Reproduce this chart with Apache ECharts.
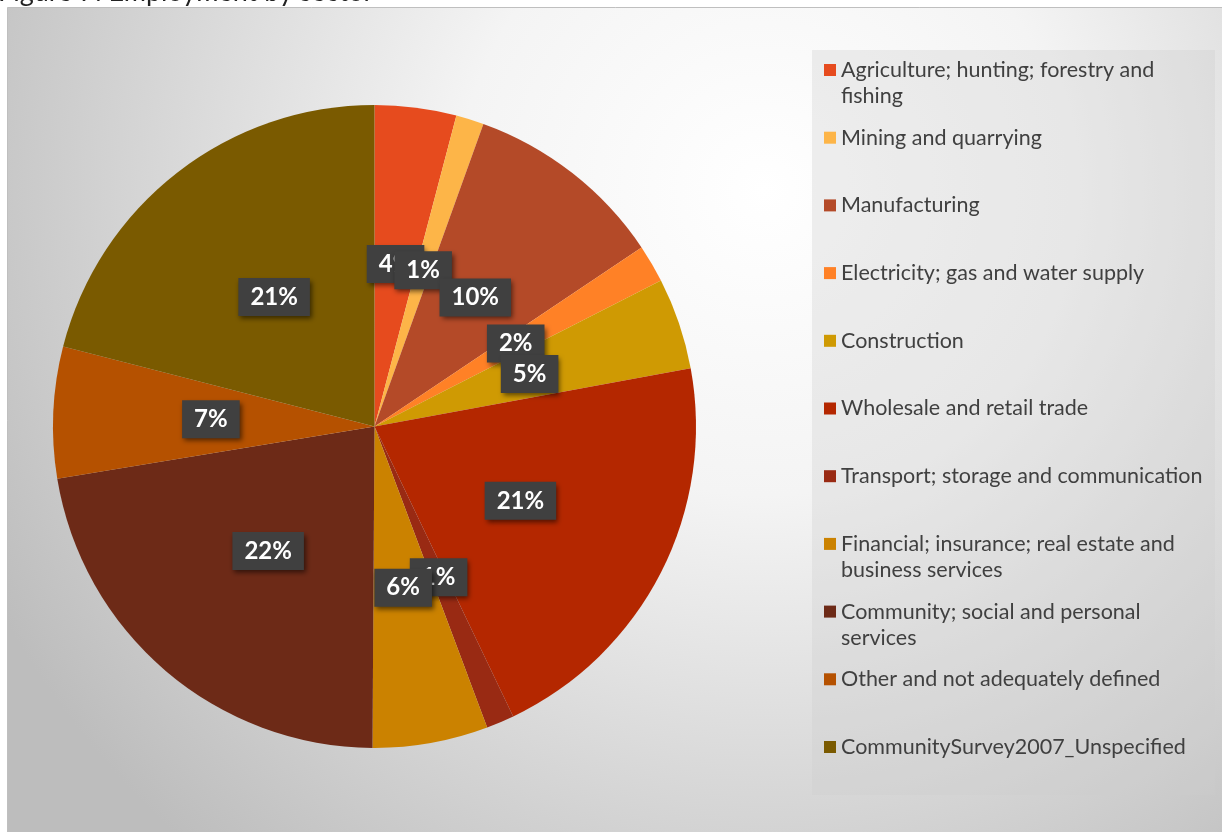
<!DOCTYPE html>
<html>
<head>
<meta charset="utf-8">
<script src="https://cdn.jsdelivr.net/npm/echarts@6/dist/echarts.min.js"></script>
<style>
  html, body { margin: 0; padding: 0; background: #ffffff; }
  #chart { width: 1222px; height: 832px; }
</style>
</head>
<body>
<div id="chart"></div>
<script>
// Employment share by sector (percent of employed persons)
const sectors = [
  'Agriculture; hunting; forestry and fishing',
  'Mining and quarrying',
  'Manufacturing',
  'Electricity; gas and water supply',
  'Construction',
  'Wholesale and retail trade',
  'Transport; storage and communication',
  'Financial; insurance; real estate and business services',
  'Community; social and personal services',
  'Other and not adequately defined',
  'CommunitySurvey2007_Unspecified'
];
const shares = [4.1, 1.4, 10.1, 1.9, 4.6, 20.8, 1.4, 5.8, 22.3, 6.6, 21.0];

// Legend text, split where the long names wrap onto a second line
const legendLines = [
  ['Agriculture; hunting; forestry and', 'fishing'],
  ['Mining and quarrying', ' '],
  ['Manufacturing', ' '],
  ['Electricity; gas and water supply', ' '],
  ['Construction', ' '],
  ['Wholesale and retail trade', ' '],
  ['Transport; storage and communication', ' '],
  ['Financial; insurance; real estate and', 'business services'],
  ['Community; social and personal', 'services'],
  ['Other and not adequately defined', ' '],
  ['CommunitySurvey2007_Unspecified', ' ']
];

const palette = [
  '#E64B1E', '#FDB548', '#B44A28', '#FF8126', '#CF9A03', '#B42700',
  '#992A13', '#CB8200', '#6D2A17', '#B55100', '#7A5A00'
];

const chart = echarts.init(document.getElementById('chart'), null, { renderer: 'canvas' });

const LINE_H = 26;

chart.setOption({
  animation: false,
  color: palette,
  title: {
    text: 'Figure 7: Employment by sector',
    left: -2,
    top: -21,
    padding: 0,
    textStyle: {
      fontFamily: 'Lato',
      fontWeight: 'normal',
      fontSize: 27,
      color: '#222222'
    }
  },
  graphic: [
    {
      type: 'rect',
      z: -2,
      shape: { x: 7.5, y: 7.5, width: 1220, height: 830 },
      style: {
        fill: {
          type: 'radial', x: 0.62, y: 0.22, r: 1.05,
          colorStops: [
            { offset: 0, color: '#FFFFFF' },
            { offset: 0.35, color: '#F4F4F4' },
            { offset: 1, color: '#BDBDBD' }
          ]
        },
        stroke: '#BFBFBF',
        lineWidth: 1
      },
      silent: true
    },
    {
      type: 'rect',
      z: -1,
      shape: { x: 812, y: 50, width: 403, height: 745 },
      style: { fill: 'rgba(205,205,205,0.32)' },
      silent: true
    }
  ],
  legend: {
    orient: 'vertical',
    left: 824,
    top: 31,
    padding: 0,
    itemGap: 67.7 - 3 * LINE_H,
    itemWidth: 12,
    itemHeight: 12,
    icon: 'rect',
    selectedMode: false,
    data: sectors,
    // a blank first line keeps the swatch level with the name's first line
    formatter: function (name) {
      const i = sectors.indexOf(name);
      return ' \n' + legendLines[i][0] + '\n' + legendLines[i][1];
    },
    textStyle: {
      fontFamily: 'Lato',
      fontSize: 21.5,
      color: '#404040',
      lineHeight: LINE_H
    }
  },
  series: [
    {
      type: 'pie',
      center: [374.5, 426.5],
      radius: [0, 321.5],
      startAngle: 90,
      clockwise: true,
      avoidLabelOverlap: false,
      percentPrecision: 0,
      itemStyle: { borderWidth: 0 },
      labelLayout: { hideOverlap: false },
      label: {
        show: true,
        position: 'inside',
        formatter: '{d}%',
        fontFamily: 'Lato',
        fontWeight: 'bold',
        fontSize: 24,
        color: '#FFFFFF',
        backgroundColor: '#404040',
        padding: [7, 12],
        shadowColor: 'rgba(0,0,0,0.55)',
        shadowBlur: 5,
        shadowOffsetX: 2,
        shadowOffsetY: 3
      },
      labelLine: { show: false },
      emphasis: { disabled: true },
      data: sectors.map(function (name, i) {
        return { name: name, value: shares[i] };
      })
    }
  ]
});
</script>
</body>
</html>
